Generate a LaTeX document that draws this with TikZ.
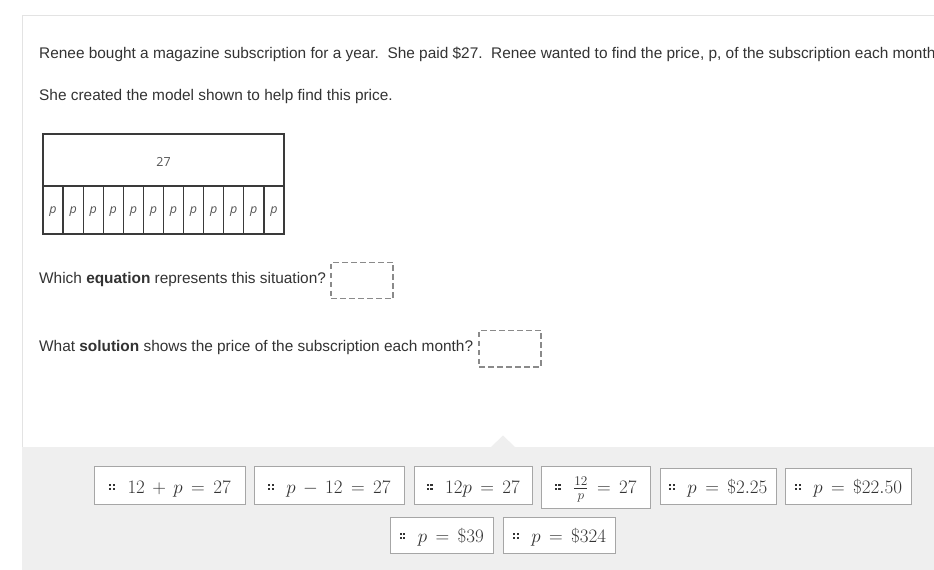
\RequirePackage{fix-cm}
\documentclass[tikz,border=0pt]{standalone}
\usepackage[no-math]{fontspec}
\setmainfont{Liberation Sans}
\newfontfamily\modelfont{Open Sans}
\definecolor{txt}{HTML}{333333}
\definecolor{panelline}{HTML}{E3E3E3}
\definecolor{traybg}{HTML}{EFEFEF}
\definecolor{tileline}{HTML}{A6A6A6}
\definecolor{dashgray}{HTML}{8A8A8A}
\definecolor{modelline}{HTML}{3A3A3A}
\definecolor{modeltxt}{HTML}{555555}
\newcommand\gripicon{\textcolor{txt}{\raisebox{3.3pt}{\rule{2.2pt}{2.2pt}\hspace{1.4pt}\rule{2.2pt}{2.2pt}}\hspace{-5.8pt}\raisebox{6.9pt}{\rule{2.2pt}{2.2pt}\hspace{1.4pt}\rule{2.2pt}{2.2pt}}}\hspace{12.5pt}}
\tikzset{
  bodytext/.style={anchor=base west, inner sep=0pt, text=txt, font=\fontsize{15.4}{18}\selectfont},
  modelcell/.style={draw=modelline, line width=1.3pt, inner sep=0pt, minimum width=20.08pt, minimum height=48pt, text height=8pt, text depth=0.4pt, text=modeltxt, font=\modelfont\itshape\fontsize{12.5}{14}\selectfont},
  dropbox/.style={draw=dashgray, line width=1.3pt, dash pattern=on 5.5pt off 3.5pt, inner sep=0pt, minimum width=62pt, minimum height=36.5pt},
  tile/.style={draw=tileline, line width=0.8pt, fill=white, inner sep=0pt, anchor=base, text=txt, font=\fontsize{19}{21}\selectfont}
}
\begin{document}
\begin{tikzpicture}[x=1pt,y=-1pt]
\useasboundingbox (0,0) rectangle (934,570);
\fill[white] (0,0) rectangle (934,570);
% panel
\draw[panelline, line width=1pt] (22,447) -- (22,15.5) -- (934,15.5);
\fill[traybg] (22,447) rectangle (934,570);
\fill[traybg] (491,447) -- (503,435.5) -- (515,447) -- cycle;
% texts
\node[bodytext] (l1) at (39,58.8) {Renee bought a magazine subscription for a year.\ \ She paid \$27.\ \ Renee wanted to find the price, p, of the subscription each month.};
\node[bodytext] (l2) at (39,100) {She created the model shown to help find this price.};
% model
\node[draw=modelline, line width=1.3pt, minimum width=241pt, minimum height=52pt, inner sep=0pt, text height=13pt, text depth=0pt, text=modeltxt, font=\modelfont\fontsize{12.5}{14}\selectfont] (total) at (163.5,160) {27};
\foreach \i in {0,...,11}{
  \node[modelcell] (c\i) at ({43+10.04+20.08*\i},210) {p};
}
% questions
\node[bodytext] (q1) at (39,283.3) {Which \textbf{equation} represents this situation?};
\node[dropbox] (d1) at (362,280.5) {};
\node[bodytext] (q2) at (39,351.8) {What \textbf{solution} shows the price of the subscription each month?};
\node[dropbox] (d2) at (510,348.6) {};
% tiles
\node[tile, minimum width=151.4pt, text height=27pt, text depth=11pt] (t1) at (170,493) {\gripicon$12\,+\,p\,=\,27$};
\node[tile, minimum width=150pt, text height=27pt, text depth=11pt] (t2) at (329.3,493) {\gripicon$p\,-\,12\,=\,27$};
\node[tile, minimum width=118pt, text height=27pt, text depth=11pt] (t3) at (473.3,493) {\gripicon$12p\,=\,27$};
\node[tile, minimum width=109.3pt, text height=27pt, text depth=15.7pt] (t4) at (595.7,493) {\gripicon$\frac{12}{p}\,=\,27$};
\node[tile, minimum width=116pt, text height=24.7pt, text depth=11pt] (t5) at (718.3,493) {\gripicon$p\,=\,\$2.25$};
\node[tile, minimum width=126.4pt, text height=24.7pt, text depth=11pt] (t6) at (848.5,493) {\gripicon$p\,=\,\$22.50$};
\node[tile, minimum width=103.3pt, text height=24.7pt, text depth=11.3pt] (t7) at (441.7,542) {\gripicon$p\,=\,\$39$};
\node[tile, minimum width=112.4pt, text height=24.7pt, text depth=11.3pt] (t8) at (559.5,542) {\gripicon$p\,=\,\$324$};
\end{tikzpicture}
\end{document}
